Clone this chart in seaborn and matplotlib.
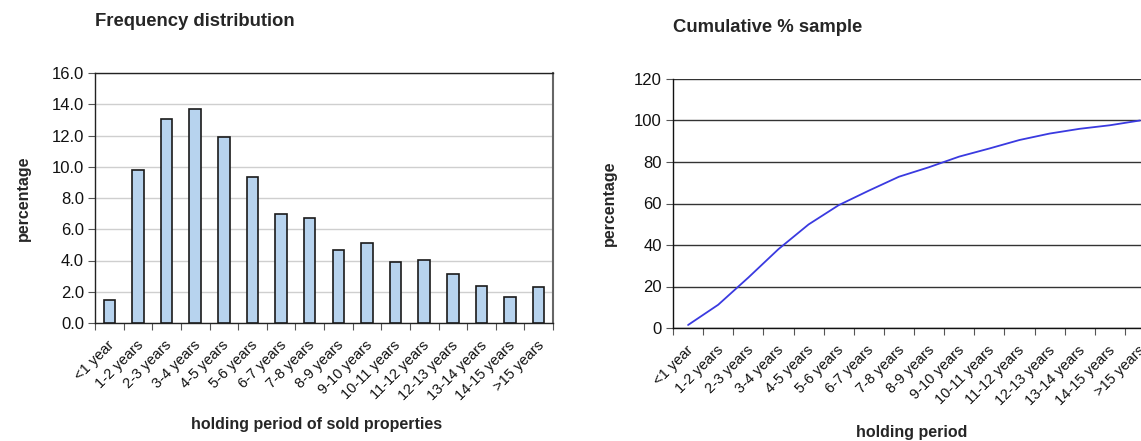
import numpy as np
import pandas as pd
import matplotlib
matplotlib.use("Agg")
import matplotlib.pyplot as plt
import matplotlib.transforms as mtransforms
from matplotlib.ticker import FixedLocator, MultipleLocator
import seaborn as sns

categories = ["<1 year", "1-2 years", "2-3 years", "3-4 years", "4-5 years",
              "5-6 years", "6-7 years", "7-8 years", "8-9 years", "9-10 years",
              "10-11 years", "11-12 years", "12-13 years", "13-14 years",
              "14-15 years", ">15 years"]
frequency_pct = [1.45, 9.77, 13.03, 13.72, 11.88, 9.32, 7.0, 6.7, 4.65, 5.12,
                 3.9, 4.05, 3.11, 2.35, 1.66, 2.28]
cumulative_pct = [1.45, 11.2, 24.3, 38.0, 49.9, 59.2, 66.2, 72.9, 77.5, 82.6,
                  86.5, 90.6, 93.7, 96.0, 97.7, 100.0]

sns.set_theme(style="white")
plt.rcParams["font.family"] = ["Liberation Sans", "DejaVu Sans"]

W, H = 1141, 441
fig = plt.figure(figsize=(W / 100, H / 100), dpi=100)

def axes_px(x0, y0, x1, y1):
    return fig.add_axes([x0 / W, 1 - y1 / H, (x1 - x0) / W, (y1 - y0) / H])

df = pd.DataFrame({"period": categories, "freq": frequency_pct,
                   "cum": cumulative_pct, "pos": np.arange(len(categories))})

ytick_fs = 12
xtick_fs = 10.5
label_fs = 11.5
title_fs = 13.3

# ---- Frequency distribution (bars) ----
ax1 = axes_px(95, 73, 553, 323)
sns.barplot(data=df, x="period", y="freq", color="#B7D3EE", edgecolor="#1a1a1a",
            linewidth=1.2, width=0.4, saturation=1, ax=ax1, zorder=3)
ax1.set_xlim(-0.5, len(categories) - 0.5)
ax1.set_ylim(0, 16)
ax1.yaxis.set_major_locator(MultipleLocator(2))
ax1.set_yticklabels([f"{v:.1f}" for v in ax1.get_yticks()])
ax1.grid(axis="y", color="#cfcfcf", linewidth=1.0, zorder=0)
ax1.set_axisbelow(True)
for s in ax1.spines.values():
    s.set_visible(True)
    s.set_color("#222222")
    s.set_linewidth(1.0)
ax1.spines["right"].set_color("#666666")
ax1.spines["right"].set_linewidth(1.5)
ax1.set_xlabel("")
ax1.set_ylabel("percentage", fontsize=label_fs, fontweight="bold", labelpad=15)

# ---- Cumulative % sample (line) ----
ax2 = axes_px(673, 79, 1155, 328)
sns.lineplot(data=df, x="pos", y="cum", color="#3a3ae0", linewidth=1.3, ax=ax2,
             zorder=3)
ax2.set_xlim(-0.5, len(categories) - 0.5)
ax2.set_ylim(0, 120)
ax2.yaxis.set_major_locator(MultipleLocator(20))
ax2.grid(axis="y", color="#333333", linewidth=1.0, zorder=0)
for s in ax2.spines.values():
    s.set_visible(False)
ax2.spines["left"].set_visible(True)
ax2.spines["bottom"].set_visible(True)
for key in ("left", "bottom"):
    ax2.spines[key].set_color("#111111")
    ax2.spines[key].set_linewidth(1.0)
ax2.set_xlabel("")
ax2.set_ylabel("percentage", fontsize=label_fs, fontweight="bold", labelpad=12)

shift = mtransforms.ScaledTranslation(-2 / 100, 0, fig.dpi_scale_trans)
for ax in (ax1, ax2):
    n = len(categories)
    ax.set_xticks(np.arange(n))
    ax.set_xticklabels(categories, rotation=45, ha="right",
                       rotation_mode="anchor", fontsize=xtick_fs)
    ax.xaxis.set_minor_locator(FixedLocator(np.arange(-0.5, n, 1.0)))
    ax.tick_params(axis="x", which="major", length=0, pad=11)
    ax.tick_params(axis="x", which="minor", length=5, width=0.8,
                   color="#555555", direction="out", bottom=True)
    ax.tick_params(axis="y", which="major", length=5, width=0.8,
                   color="#555555", direction="out", left=True,
                   labelsize=ytick_fs, pad=3)
    for lab in ax.get_xticklabels():
        lab.set_transform(lab.get_transform() + shift)
    for lab in ax.get_xticklabels() + ax.get_yticklabels():
        lab.set_color("#111111")

# titles and axis titles
fig.text(95 / W, 1 - 22 / H, "Frequency distribution", fontsize=title_fs,
         fontweight="bold", ha="left", va="center")
fig.text(673 / W, 1 - 28 / H, "Cumulative % sample", fontsize=title_fs,
         fontweight="bold", ha="left", va="center")
fig.text(317 / W, 1 - 425 / H, "holding period of sold properties",
         fontsize=label_fs, fontweight="bold", ha="center", va="center")
fig.text(912 / W, 1 - 433 / H, "holding period",
         fontsize=label_fs, fontweight="bold", ha="center", va="center")

fig.savefig("out.png", dpi=100, facecolor="white")
